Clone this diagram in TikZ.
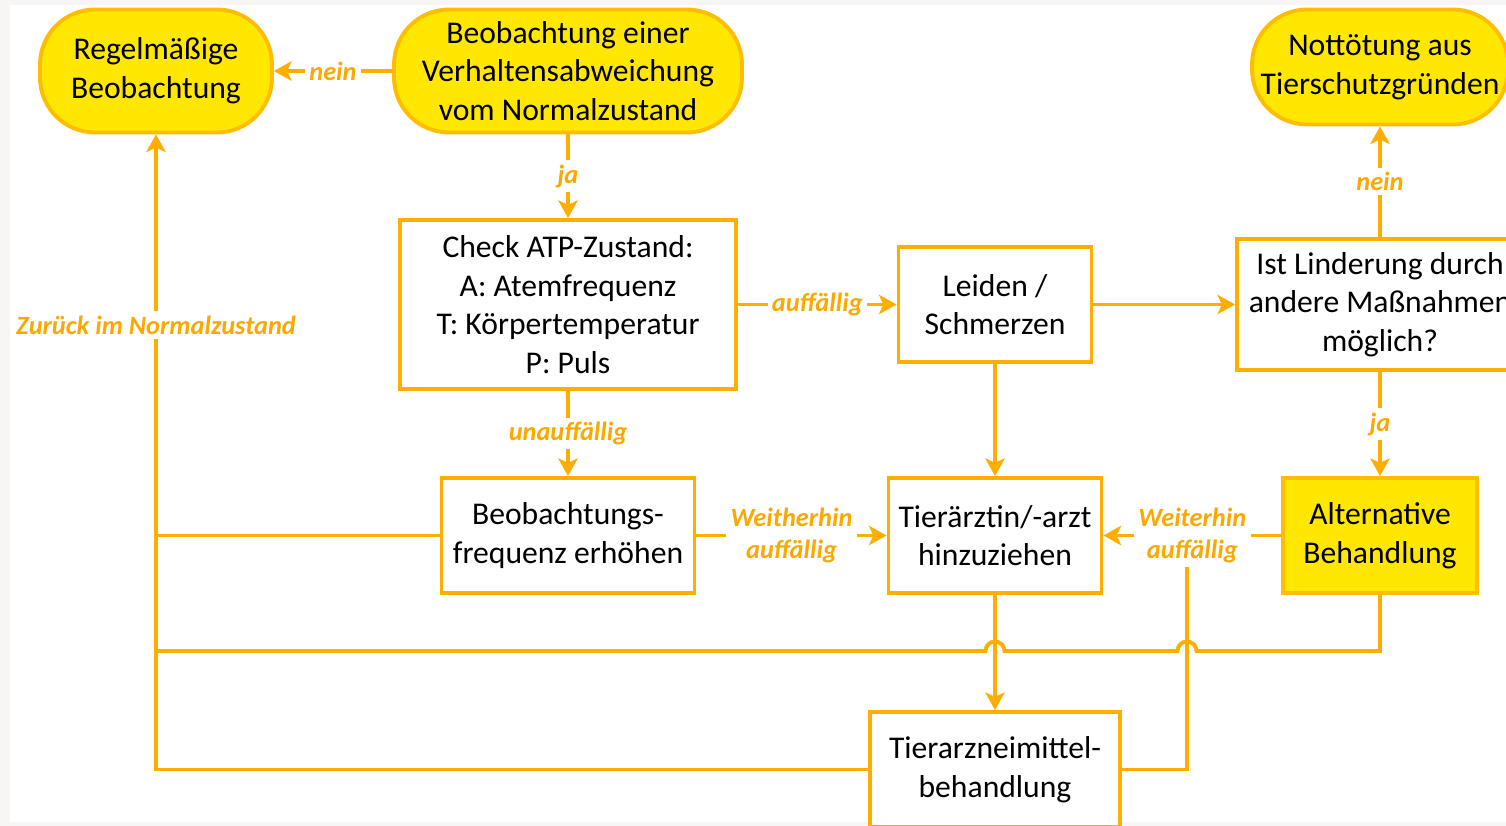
\documentclass[tikz,border=0pt]{standalone}
\usepackage{fontspec}
\setmainfont{Carlito}
\usetikzlibrary{arrows.meta}
\definecolor{linienorange}{RGB}{255,174,0}
\definecolor{kapselgelb}{RGB}{255,231,0}
\definecolor{randorange}{RGB}{255,188,0}
\definecolor{textorange}{RGB}{252,168,0}
\definecolor{randgrau}{RGB}{247,246,244}

\begin{document}
\begin{tikzpicture}[linienorange,line width=2.2pt,node font=\fontsize{18}{22}\selectfont,
  kapsel/.style={rectangle,rounded corners=1.1cm,draw=randorange,fill=kapselgelb,text=black,align=center,inner sep=0pt},
  kasten/.style={rectangle,draw=linienorange,fill=white,text=black,align=center,inner sep=0pt,minimum height=2.3cm},
  pfeil/.style={-{Stealth[length=10pt,width=11pt,inset=2.5pt]}},
  marke/.style={fill=white,text=textorange,font=\fontsize{15}{18}\selectfont\bfseries\itshape,inner sep=2.5pt,align=center}]
\useasboundingbox (0,0) rectangle (30.12,-16.52);
			\fill[randgrau] (0,0) rectangle (30.12,-16.52);
			\fill[white] (0.2,-0.1) rectangle (30.12,-16.44);
			\node[kapsel,minimum width=4.64cm,minimum height=2.46cm] (regel) at (3.12,-1.42) {Regelmäßige\\Beobachtung};
			\node[kapsel,minimum width=6.96cm,minimum height=2.46cm] (beob) at (11.36,-1.42) {Beobachtung einer\\Verhaltensabweichung\\vom Normalzustand};
			\node[kapsel,minimum width=5.12cm,minimum height=2.3cm] (nott) at (27.6,-1.34) {Nottötung aus\\Tierschutzgründen};
			\node[kasten,minimum width=6.72cm,minimum height=3.38cm] (check) at (11.36,-6.09) {Check ATP-Zustand:\\A: Atemfrequenz\\T: Körpertemperatur\\P: Puls};
			\node[kasten,minimum width=3.86cm] (leiden) at (19.9,-6.09) {Leiden /\\Schmerzen};
			\node[kasten,minimum width=5.72cm,minimum height=2.62cm] (ist) at (27.6,-6.09) {Ist Linderung durch\\andere Maßnahmen\\möglich?};
			\node[kasten,minimum width=5.06cm] (freq) at (11.36,-10.71) {Beobachtungs-\\frequenz erhöhen};
			\node[kasten,minimum width=4.26cm] (arzt) at (19.9,-10.71) {Tierärztin/-arzt\\hinzuziehen};
			\node[kasten,draw=randorange,fill=kapselgelb,minimum width=3.88cm] (alt) at (27.6,-10.71) {Alternative\\Behandlung};
			\node[kasten,minimum width=5cm] (tam) at (19.9,-15.39) {Tierarzneimittel-\\behandlung};
			\coordinate (rueck) at (23.74,-10.71);
			\coordinate (links) at (3.12,-13.02);
			\coordinate (sprungA) at (23.93,-13.02);
			\coordinate (sprungB) at (20.09,-13.02);
			\draw[pfeil] (beob) -- node[marke] {nein} (regel);
			\draw[pfeil] (beob) -- node[marke] {ja} (check);
			\draw[pfeil] (check) -- node[marke] {auffällig} (leiden);
			\draw[pfeil] (leiden) -- (ist);
			\draw[pfeil] (ist) -- node[marke] {nein} (nott);
			\draw[pfeil] (ist) -- node[marke] {ja} (alt);
			\draw[pfeil] (check) -- node[marke] {unauffällig} (freq);
			\draw[pfeil] (leiden) -- (arzt);
			\draw[pfeil] (freq) -- node[marke] {Weitherhin\\auffällig} (arzt);
			\draw (tam.east) -| (rueck);
			\draw[pfeil] (alt) -- node[marke] {Weiterhin\\auffällig} (arzt);
			\draw[pfeil] (arzt) -- (tam);
			\draw (alt.south) |- (sprungA) arc[start angle=0,end angle=180,radius=0.19] -- (sprungB) arc[start angle=0,end angle=180,radius=0.19] -- (links);
			\draw (freq.west) -- (freq.west -| links);
			\draw[pfeil] (tam.west) -| node[marke,pos=0.85] {Zurück im Normalzustand} (regel.south);
		\end{tikzpicture}
\end{document}
